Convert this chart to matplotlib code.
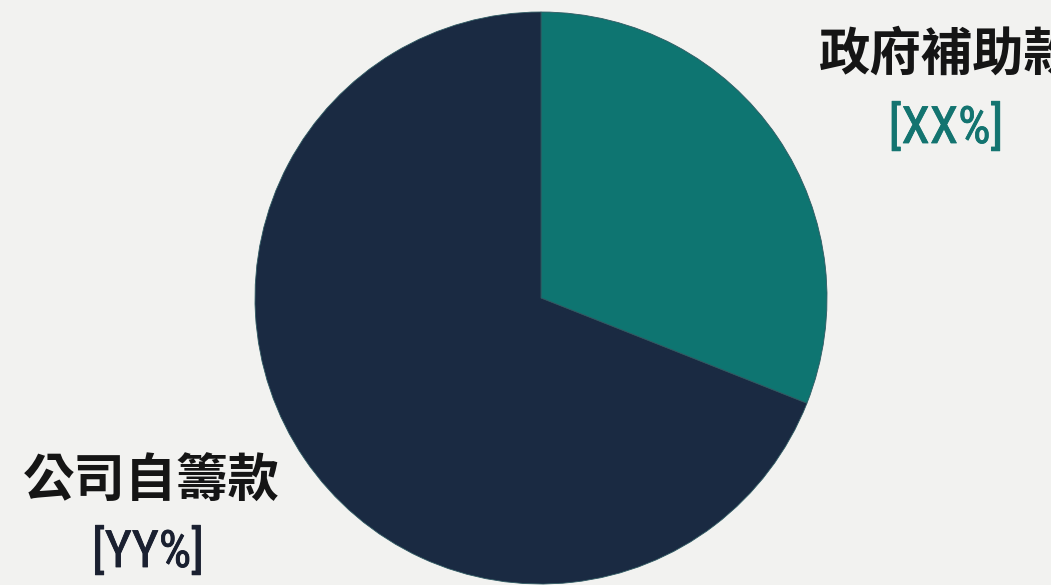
import matplotlib.pyplot as plt
import matplotlib.patheffects as pe

# 資金來源比例（參考圖估計）
labels = ['政府補助款', '公司自籌款']
pct_labels = ['[XX%]', '[YY%]']
shares = [31, 69]
colors = ['#0e7571', '#1a2a42']

plt.rcParams['font.family'] = ['Noto Sans CJK TC', 'DejaVu Sans']

W, H = 1051, 585
fig = plt.figure(figsize=(W / 100, H / 100), dpi=100)
fig.patch.set_facecolor('#f2f2f0')
ax = fig.add_axes([0, 0, 1, 1])
ax.set_facecolor('#f2f2f0')

ax.pie(shares, colors=colors, startangle=90, counterclock=False,
       center=(541, H - 298), radius=286, frame=True,
       wedgeprops=dict(linewidth=0.6, edgecolor='#2f5a62'))
ax.set_xlim(0, W)
ax.set_ylim(0, H)
ax.set_aspect('equal')
ax.axis('off')

pct_font = ['Roboto Condensed', 'Roboto']

# 標籤
ax.text(947, H - 54, labels[0], fontsize=37, fontweight='bold',
        color='#151515', ha='center', va='center')
ax.text(946, H - 129, pct_labels[0], fontsize=37, fontweight='normal',
        color='#137470', ha='center', va='center', family=pct_font,
        path_effects=[pe.withStroke(linewidth=0.6, foreground='#137470')])
ax.text(151, H - 481, labels[1], fontsize=37, fontweight='bold',
        color='#151515', ha='center', va='center')
ax.text(148, H - 553, pct_labels[1], fontsize=37, fontweight='normal',
        color='#1a2030', ha='center', va='center', family=pct_font,
        path_effects=[pe.withStroke(linewidth=0.6, foreground='#1a2030')])

fig.savefig('out.png', dpi=100, facecolor=fig.get_facecolor())
